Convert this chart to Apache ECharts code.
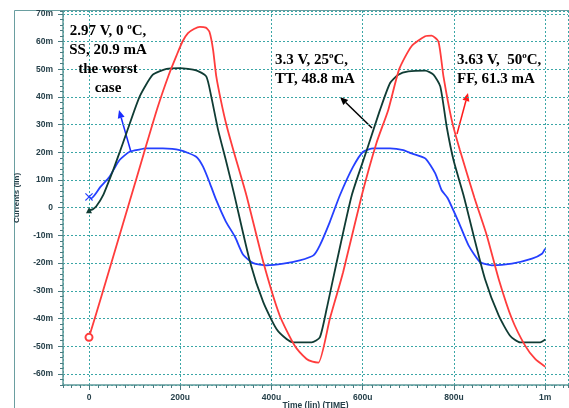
<!DOCTYPE html>
<html>
<head>
<meta charset="utf-8">
<script src="https://cdn.jsdelivr.net/npm/echarts@6/dist/echarts.min.js"></script>
<style>
  html, body { margin: 0; padding: 0; background: #fff; }
  #main { width: 569px; height: 408px; }
</style>
</head>
<body>
<div id="main"></div>
<script>
// time in us, current in mA
var redT = [0,31,60,89,120,150,175,192,205,217,230,243,256,264,272,279,290,301,316,345,382,418,451,477,490,503,528,557,598,630,656,680,707,737,751,766,777,795,813,845,872,898,927,956,978,1000];
var redI = [-46.8,-29.9,-13.8,2.2,19.5,36,48,55,60,63,64.5,65.3,65,63.5,57,47.4,38,30,21,4.5,-19.6,-38.9,-49.8,-54.6,-55.6,-55.9,-40.1,-23.3,4.5,23.3,35.3,50,58.3,61.9,62.1,60,47.4,31.7,20.8,3.5,-10,-25.7,-40.1,-49.8,-54.6,-57.4];

var ttT = [0,8,16,31,53,68,82,111,140,170,199,235,257,268,283,301,318,353,382,411,433,448,488,506,521,543,576,609,638,660,678,700,737,755,770,784,799,821,843,868,898,923,945,989,1000];
var ttI = [-0.9,-0.6,0.5,4.5,13.6,20.4,26.9,40.1,48,50.1,50.4,49.6,47.4,40.1,28.1,16.5,5,-19.6,-34.1,-43.8,-47.4,-48.6,-48.6,-46.8,-36.5,-19.6,4.5,20.8,35.3,45,48,49.2,49.5,48,43.8,29.3,17.2,4.5,-10,-25.7,-38.9,-46.2,-48.6,-48.6,-47.6];

var ssT = [0,5,12,25,45,67,89,110,126,162,199,235,250,265,279,300,320,338,360,389,426,462,492,506,528,550,579,601,623,660,689,707,737,759,773,786,810,832,857,883,927,971,993,1000];
var ssI = [3.9,3.4,4.5,7.5,11.2,17.2,20.2,21,21.4,21.4,20.8,18.4,14.8,8.8,2.7,-5,-10.5,-17,-20,-20.8,-20.2,-19,-17.2,-13.6,-5.1,4.5,14.8,20.2,21.4,21.4,20.8,19.6,17.8,12.4,6.3,3.5,-5.1,-13.6,-19.6,-20.8,-20.2,-18.4,-16.6,-14.8];

var xLabels = {0: '0', 200: '200u', 400: '400u', 600: '600u', 800: '800u', 1000: '1m'};

var labelColor = '#26404a';
var gridColor = '#3aa6a6';

function pairs(ts, vs, sym, size) {
    var d = ts.map(function (t, i) { return [t, vs[i]]; });
    d[0] = {value: d[0], symbol: sym, symbolSize: size, itemStyle: {borderWidth: 1.2}};
    return d;
}

function arrow(x1, y1, x2, y2, color) {
    var a = Math.atan2(y2 - y1, x2 - x1), L = 8, W = 3.5;
    var bx = x2 - L * Math.cos(a), by = y2 - L * Math.sin(a);
    return [
        {type: 'line', shape: {x1: x1, y1: y1, x2: bx, y2: by}, style: {stroke: color, lineWidth: 1.5}},
        {type: 'polygon', shape: {points: [[x2, y2],
            [bx + W * Math.sin(a), by - W * Math.cos(a)],
            [bx - W * Math.sin(a), by + W * Math.cos(a)]]}, style: {fill: color}}
    ];
}

var serif = {fontSize: 15, fontWeight: 'bold', fontFamily: 'Liberation Serif', lineHeight: 19, fill: '#000'};
var sup = {fontSize: 9, fontWeight: 'bold', fontFamily: 'Liberation Serif', lineHeight: 13, verticalAlign: 'top', fill: '#000'};

function note(x, y, text, align) {
    return {type: 'text', x: x, y: y, z: 10,
        style: {text: text, align: align, verticalAlign: 'top', rich: {a: serif, s: sup}}};
}

var myChart = echarts.init(document.getElementById('main'));

var option = {
    animation: false,
    backgroundColor: '#fff',
    grid: {left: 63, right: 1, top: 11, bottom: 23, outerBoundsMode: 'none'},
    xAxis: [{
        type: 'value', min: -57, max: 1050, minInterval: 200, maxInterval: 200,
        position: 'bottom',
        name: 'Time (lin) (TIME)', nameLocation: 'middle', nameGap: 16, nameMoveOverlap: false,
        nameTextStyle: {color: labelColor, fontSize: 8.5, fontWeight: 'bold', fontFamily: 'Liberation Sans',
            verticalAlign: 'top'},
        axisLine: {onZero: false, lineStyle: {color: '#5f9a9a', width: 1.5}},
        axisTick: {show: true, inside: false, length: 5, lineStyle: {color: '#4a7a80'}},
        axisLabel: {margin: 8, color: labelColor, fontSize: 8.5, fontWeight: 'bold', fontFamily: 'Liberation Sans',
            showMinLabel: false, showMaxLabel: false,
            formatter: function (v) { return xLabels[v] !== undefined ? xLabels[v] : ''; }},
        splitLine: {show: true, lineStyle: {color: gridColor, type: [2, 2], width: 1}}
    }, {
        type: 'value', min: -57, max: 1050, minInterval: 20, maxInterval: 20,
        position: 'bottom',
        axisLine: {show: false, onZero: false},
        axisTick: {show: true, length: 3, lineStyle: {color: '#4a7a80'}},
        axisLabel: {show: false},
        splitLine: {show: false}
    }],
    yAxis: [{
        type: 'value', min: -64, max: 71, minInterval: 10, maxInterval: 10,
        position: 'left',
        name: 'Currents (lin)', nameLocation: 'middle', nameGap: 42, nameMoveOverlap: false,
        nameTextStyle: {color: labelColor, fontSize: 8, fontWeight: 'bold', fontFamily: 'Liberation Sans'},
        axisLine: {show: true, onZero: false, lineStyle: {color: '#5f9a9a', width: 1.5}},
        axisTick: {show: true, inside: false, length: 5, lineStyle: {color: '#4a7a80'}},
        axisLabel: {margin: 10, color: labelColor, fontSize: 8.5, fontWeight: 'bold', fontFamily: 'Liberation Sans',
            showMinLabel: false, showMaxLabel: false,
            formatter: function (v) { return v === 0 ? '0' : v + 'm'; }},
        splitLine: {show: true, lineStyle: {color: gridColor, type: [2, 2], width: 1}}
    }, {
        type: 'value', min: -64, max: 71, minInterval: 2, maxInterval: 2,
        position: 'left',
        axisLine: {show: false, onZero: false},
        axisTick: {show: true, length: 3, lineStyle: {color: '#4a7a80'}},
        axisLabel: {show: false},
        splitLine: {show: false}
    }],
    series: [{
        name: 'SS', type: 'line', symbol: 'none', showSymbol: true, smooth: 0.2,
        data: pairs(ssT, ssI, 'path://M0,1L1,0L5,4L9,0L10,1L6,5L10,9L9,10L5,6L1,10L0,9L4,5Z', 8),
        lineStyle: {color: '#2540ff', width: 1.8}, itemStyle: {color: '#2540ff'},
        emphasis: {disabled: true}, silent: true
    }, {
        name: 'TT', type: 'line', symbol: 'none', showSymbol: true, smooth: 0.2,
        data: pairs(ttT, ttI, 'triangle', 6),
        lineStyle: {color: '#103c34', width: 1.8}, itemStyle: {color: '#103c34'},
        emphasis: {disabled: true}, silent: true
    }, {
        name: 'FF', type: 'line', symbol: 'none', showSymbol: true, smooth: 0.2,
        data: pairs(redT, redI, 'emptyCircle', 7),
        lineStyle: {color: '#ff3c3c', width: 1.8}, itemStyle: {color: '#ff3c3c'},
        emphasis: {disabled: true}, silent: true
    }],
    graphic: [
        {type: 'rect', shape: {x: 14.5, y: 10.5, width: 560, height: 420},
            style: {fill: null, stroke: '#6a9ea0', lineWidth: 1}, silent: true},
        note(108, 22, '{a|2.97 V, 0 }{s|o}{a|C,}\n{a|SS, 20.9 mA}\n{a|the worst}\n{a|case}', 'center'),
        note(275, 51, '{a|3.3 V, 25}{s|o}{a|C,}\n{a|TT, 48.8 mA}', 'left'),
        note(457, 51, '{a|3.63 V,  50}{s|o}{a|C,}\n{a|FF, 61.3 mA}', 'left')
    ].concat(arrow(131, 152, 119, 110, '#1a2cff'))
     .concat(arrow(372, 128, 340, 97, '#000'))
     .concat(arrow(457, 134, 468, 93, '#ff1a1a'))
};

myChart.setOption(option);
</script>
</body>
</html>
